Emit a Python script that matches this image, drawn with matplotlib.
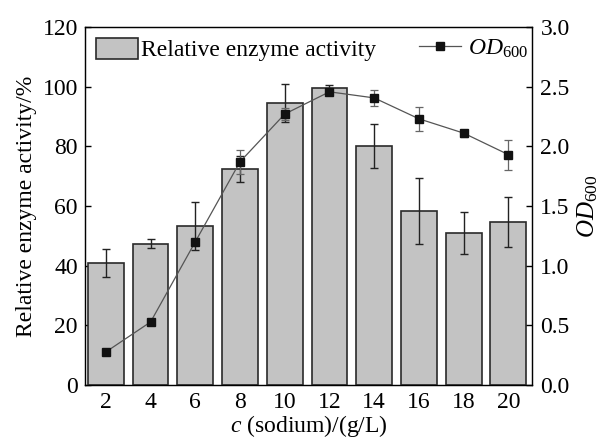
import matplotlib
matplotlib.use("Agg")
import matplotlib.pyplot as plt
import numpy as np
from matplotlib.lines import Line2D

plt.rcParams['font.family'] = ['Liberation Serif', 'DejaVu Serif']
plt.rcParams['mathtext.fontset'] = 'custom'
plt.rcParams['mathtext.rm'] = 'Liberation Serif'
plt.rcParams['mathtext.it'] = 'Liberation Serif:italic'

sodium = ['2', '4', '6', '8', '10', '12', '14', '16', '18', '20']
activity = [40.8, 47.3, 53.3, 72.4, 94.5, 99.6, 80.1, 58.3, 51.0, 54.6]
activity_err = [4.7, 1.5, 8.0, 4.5, 6.5, 1.0, 7.4, 11.0, 7.0, 8.4]
od600 = [0.277, 0.528, 1.20, 1.87, 2.27, 2.456, 2.405, 2.23, 2.11, 1.93]
od600_err = [0.0, 0.0, 0.0, 0.10, 0.05, 0.03, 0.07, 0.10, 0.03, 0.125]

FS = 17
fig = plt.figure(figsize=(6.06, 4.48), dpi=100)
ax = fig.add_axes([0.140, 0.1406, 0.738, 0.7994])
x = np.arange(len(sodium))

bars = ax.bar(x, activity, width=0.8, color='#c3c3c3', edgecolor='#2a2a2a',
              linewidth=1.2, label='Relative enzyme activity', zorder=2)
ax.errorbar(x, activity, yerr=activity_err, fmt='none', ecolor='#222222',
            elinewidth=1.0, capsize=3, capthick=1.0, zorder=3)
ax.set_ylim(0, 120)
ax.set_yticks(np.arange(0, 121, 20))
ax.set_xlim(-0.47, 9.53)
ax.set_xticks(x)
ax.set_xticklabels(sodium)
ax.set_ylabel('Relative enzyme activity/%', fontsize=FS, labelpad=4)
ax.set_xlabel('$c$ (sodium)/(g/L)', fontsize=FS, labelpad=0)
ax.tick_params(direction='in', labelsize=FS, length=4, width=1.0, pad=5)
for s in ax.spines.values():
    s.set_linewidth(1.0)
    s.set_color('#222222')

ax2 = ax.twinx()
ax2.errorbar(x, od600, yerr=od600_err, fmt='-s', color='#555555',
             mfc='#111111', mec='#111111', ms=5.5, lw=0.9,
             ecolor='#666666', elinewidth=0.9, capsize=3, capthick=0.9,
             zorder=4)
ax2.set_ylim(0, 3.0)
ax2.set_yticks(np.arange(0, 3.01, 0.5))
ax2.set_yticklabels([f'{v:.1f}' for v in np.arange(0, 3.01, 0.5)])
ax2.set_ylabel('$OD_{600}$', fontsize=FS + 1, labelpad=4)
ax2.tick_params(direction='in', labelsize=FS, length=4, width=1.0, pad=6)

ax.legend(handles=[bars], loc='upper left', frameon=False, fontsize=FS,
          handlelength=1.75, handleheight=1.0, borderaxespad=0.0,
          borderpad=0.3, handletextpad=0.15,
          bbox_to_anchor=(0.01, 0.99))
lh = Line2D([], [], color='#555555', marker='s', mfc='#111111', mec='#111111',
            ms=5.5, lw=0.9)
ax2.legend(handles=[lh], labels=['$OD_{600}$'], loc='upper right',
           frameon=False, fontsize=FS, handlelength=1.8,
           borderaxespad=0.0, borderpad=0.3, handletextpad=0.3,
           bbox_to_anchor=(1.008, 0.99))

fig.savefig('out.png', dpi=100)
